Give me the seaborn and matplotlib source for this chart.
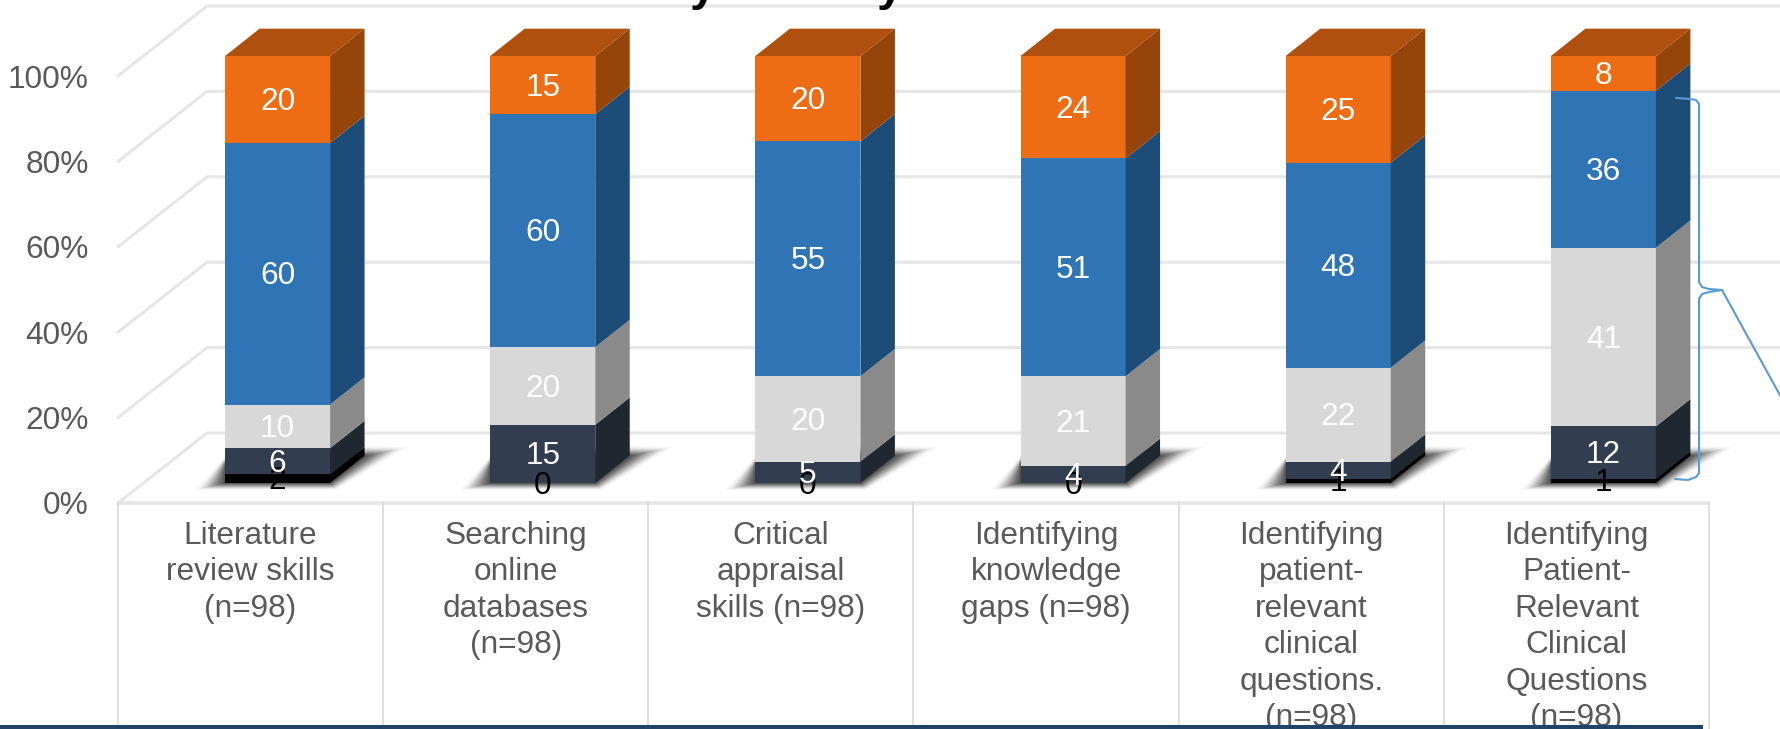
import numpy as np
import seaborn as sns
import matplotlib.pyplot as plt
from matplotlib.lines import Line2D
from matplotlib.patches import Rectangle
from matplotlib.ticker import PercentFormatter

categories = [
    'Literature\nreview skills\n(n=98)',
    'Searching\nonline\ndatabases\n(n=98)',
    'Critical\nappraisal\nskills (n=98)',
    'Identifying\nknowledge\ngaps (n=98)',
    'Identifying\npatient-\nrelevant\nclinical\nquestions.\n(n=98)',
    'Identifying\nPatient-\nRelevant\nClinical\nQuestions\n(n=98)',
]
# bottom to top of each stack
s_black = [2, 0, 0, 0, 1, 1]
s_dark = [6, 15, 5, 4, 4, 12]
s_grey = [10, 20, 20, 21, 22, 41]
s_blue = [60, 60, 55, 51, 48, 36]
s_orange = [20, 15, 20, 24, 25, 8]
y_ticks = [0, 20, 40, 60, 80, 100]

series = [s_black, s_dark, s_grey, s_blue, s_orange]
front_colors = ['#000000', '#323D4F', '#D8D8D8', '#2F75B6', '#EE6C13']
side_colors = ['#000000', '#1F2731', '#8A8A8A', '#1C4C78', '#96450A']
label_colors = ['black', 'white', 'white', 'white', 'white']
top_color = '#B0500E'
grid_color = '#E6E6E6'
text_color = '#595959'
line_blue = '#5B9BD5'

W, H = 1781, 729
sns.set_theme(style='white')
plt.rcParams['font.family'] = ['Liberation Sans', 'DejaVu Sans']

fig = plt.figure(figsize=(W / 100, H / 100), dpi=100)


def axes_box(left, right, y0, y100):
    return [left / W, 1 - y0 / H, (right - left) / W, (y0 - y100) / H]


# floor / walls axes, and the bars axes pushed back into the depth
ax = fig.add_axes(axes_box(118, 1709, 503, 76))
ax3d = fig.add_axes(axes_box(145, 1736, 483, 56))

ax.set_xlim(-0.5, 5.5)
ax.set_ylim(0, 100)
sns.despine(ax=ax, left=True, bottom=True)
ax.patch.set_alpha(0)
ax.set_yticks(y_ticks)
ax.yaxis.set_major_formatter(PercentFormatter(100, decimals=0))
ax.set_xticks(range(len(categories)))
ax.set_xticklabels(categories, fontsize=22.8, color=text_color, linespacing=1.28, va='top')
ax.tick_params(axis='x', length=0, pad=13)
ax.tick_params(axis='y', length=0, pad=21, labelsize=22.8, labelcolor=text_color)

# gridlines: slant up the side wall, then run along the back wall
back_x = 89 / 265.17
back_y = 70 / 4.27
for t in y_ticks:
    ax.plot([-0.5, -0.5 + back_x, 6], [t, t + back_y, t + back_y],
            color=grid_color, lw=2.2, clip_on=False, zorder=1)
ax.plot([-0.5, 5.5], [0, 0], color=grid_color, lw=2.6, clip_on=False, zorder=1)
for i in range(len(categories) + 1):
    ax.plot([i - 0.5, i - 0.5], [0, -54], color='#D9D9D9', lw=1.2, clip_on=False, zorder=1)

# stacks as 100% shares
values = np.array(series, dtype=float)
totals = values.sum(axis=0)
shares = values / totals * 100
tops = np.cumsum(shares, axis=0)
bottoms = tops - shares

bar_w = 0.396
depth_x = 0.13
depth_y = 6.4

# soft shadow on the floor, layers bunch up close to the bar
shadow_outer = np.array([[-0.31, -1.6], [0.22, -1.6], [0.49, 8.4], [-0.15, 9.5]])
shadow_inner = np.array([[-0.198, 0], [0.198, 0], [0.328, 6.3], [-0.198, 6.3]])
for i in range(len(categories)):
    for t in np.linspace(0, 1, 30) ** 0.6:
        poly = shadow_outer + (shadow_inner - shadow_outer) * t
        ax3d.fill(poly[:, 0] + i, poly[:, 1], color='black', alpha=0.035, lw=0,
                  clip_on=False, zorder=0.5)

# front faces, tallest first so each one only shows its own segment
for k in range(len(series) - 1, -1, -1):
    sns.barplot(x=categories, y=tops[k], color=front_colors[k], saturation=1,
                width=bar_w, linewidth=0, ax=ax3d, zorder=2)

# side and top faces
for i in range(len(categories)):
    xr = i + bar_w / 2
    xl = i - bar_w / 2
    for k in range(len(series)):
        b, t = bottoms[k, i], tops[k, i]
        ax3d.fill([xr, xr + depth_x, xr + depth_x, xr], [b, b + depth_y, t + depth_y, t],
                  color=side_colors[k], lw=0, clip_on=False, zorder=3)
    ax3d.fill([xl, xr, xr + depth_x, xl + depth_x], [100, 100, 100 + depth_y, 100 + depth_y],
              color=top_color, lw=0, clip_on=False, zorder=3)

ax3d.set_xlim(-0.5, 5.5)
ax3d.set_ylim(0, 100)
ax3d.axis('off')

# value labels
for k in range(len(series)):
    for i in range(len(categories)):
        ax3d.text(i, (bottoms[k, i] + tops[k, i]) / 2 - 0.6, str(series[k][i]), ha='center', va='center',
                  fontsize=22.8, color=label_colors[k], clip_on=False, zorder=5)


def fx(px):
    return px / W


def fy(py):
    return 1 - py / H


# bracket and leader line
brace_x = [1676, 1690, 1696, 1699, 1699, 1702, 1709, 1722, 1709, 1702, 1699, 1699, 1696, 1688, 1675]
brace_y = [98, 99, 100, 104, 282, 287, 289, 290, 292, 294, 299, 473, 477, 480, 479]
fig.add_artist(Line2D([fx(p) for p in brace_x], [fy(p) for p in brace_y],
                      color=line_blue, lw=1.5, zorder=6))
fig.add_artist(Line2D([fx(1722), fx(1781)], [fy(290), fy(397)], color=line_blue, lw=1.5, zorder=6))

# slide title cut off by the crop, only the descenders are left
for px in [703, 890]:
    fig.text(fx(px), 1.0, 'y', ha='center', va='baseline', fontsize=34, fontweight='bold',
             color='black')

# dark band at the bottom of the slide
fig.add_artist(Rectangle((0, 0), fx(1703), fy(725), transform=fig.transFigure,
                         facecolor='#1F4465', edgecolor='none', zorder=8))

fig.savefig('out.png', dpi=100)
